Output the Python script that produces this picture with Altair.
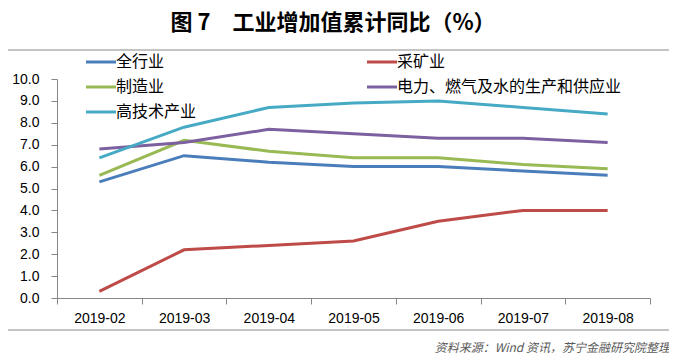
import altair as alt
import pandas as pd

months = ["2019-02", "2019-03", "2019-04", "2019-05", "2019-06", "2019-07", "2019-08"]
series = ["全行业", "采矿业", "制造业", "电力、燃气及水的生产和供应业", "高技术产业"]
all_industry = [5.3, 6.5, 6.2, 6.0, 6.0, 5.8, 5.6]
mining = [0.3, 2.2, 2.4, 2.6, 3.5, 4.0, 4.0]
manufacturing = [5.6, 7.2, 6.7, 6.4, 6.4, 6.1, 5.9]
utilities = [6.8, 7.1, 7.7, 7.5, 7.3, 7.3, 7.1]
hightech = [6.4, 7.8, 8.7, 8.9, 9.0, 8.7, 8.4]
colors = ["#4a7ebb", "#be4b48", "#98b954", "#7d60a0", "#46aac5"]
# legend is filled column by column: this order gives rows
# (全行业, 采矿业), (制造业, 电力…), (高技术产业)
legend_order = [0, 2, 4, 1, 3]
y_ticks = [0, 1, 2, 3, 4, 5, 6, 7, 8, 9, 10]
title_text = "图 7　工业增加值累计同比（%）"
source_text = "资料来源：Wind 资讯，苏宁金融研究院整理"

rows = []
for name, vals in zip(series, [all_industry, mining, manufacturing, utilities, hightech]):
    for m, v in zip(months, vals):
        rows.append({"month": m, "series": name, "value": v})
df = pd.DataFrame(rows)

dom = [series[i] for i in legend_order]
rng = [colors[i] for i in legend_order]

num_font = "Liberation Sans"
cjk_font = "Noto Sans CJK SC"

lines = alt.Chart(df).mark_line(strokeWidth=3).encode(
    x=alt.X("month:O", sort=months, bandPosition=0.5,
            scale=alt.Scale(type="band", paddingInner=0, paddingOuter=0),
            axis=alt.Axis(title=None, labelAngle=0, tickBand="extent", tickSize=6,
                          labelPadding=7, labelFont=num_font, labelFontSize=14,
                          labelColor="#000000", domainColor="#868686", tickColor="#868686")),
    y=alt.Y("value:Q", scale=alt.Scale(domain=[0, 10], nice=False),
            axis=alt.Axis(title=None, values=y_ticks, format=".1f", grid=False, tickSize=6,
                          labelPadding=12, labelFont=num_font, labelFontSize=14,
                          labelColor="#000000", domainColor="#868686", tickColor="#868686")),
    color=alt.Color("series:N", sort=dom,
                    scale=alt.Scale(domain=dom, range=rng),
                    legend=alt.Legend(title=None, orient="none", legendX=35, legendY=-26,
                                      columns=2, columnPadding=164, rowPadding=8,
                                      symbolType="M-2,0H2", symbolSize=225,
                                      symbolStrokeWidth=3, labelFont=cjk_font,
                                      labelFontSize=16, labelLimit=400, labelOffset=6,
                                      labelColor="#000000")),
    detail="series:N",
)

deco = pd.DataFrame({"t": [title_text], "s": [source_text]})

border = alt.Chart(deco).mark_rect(fill="transparent", stroke="#888888", strokeWidth=1).encode(
    x=alt.value(-50), x2=alt.value(613), y=alt.value(-29), y2=alt.value(251)
)

title = alt.Chart(deco).mark_text(font=cjk_font, fontSize=22, fontWeight="bold",
                                  align="center", baseline="middle", color="#000000").encode(
    text="t:N", x=alt.value(276), y=alt.value(-56)
)

source = alt.Chart(deco).mark_text(font=cjk_font, fontSize=12, fontStyle="italic",
                                   align="right", baseline="middle", color="#595959").encode(
    text="s:N", x=alt.value(613), y=alt.value(269)
)

chart = alt.layer(border, lines, title, source).properties(
    width=593, height=219,
    padding={"left": 49, "top": 71, "right": 19, "bottom": 58},
    autosize=alt.AutoSizeParams(type="none"),
).configure_view(stroke=None)

chart.save("out.html", embed_options={"renderer": "svg", "actions": False})
